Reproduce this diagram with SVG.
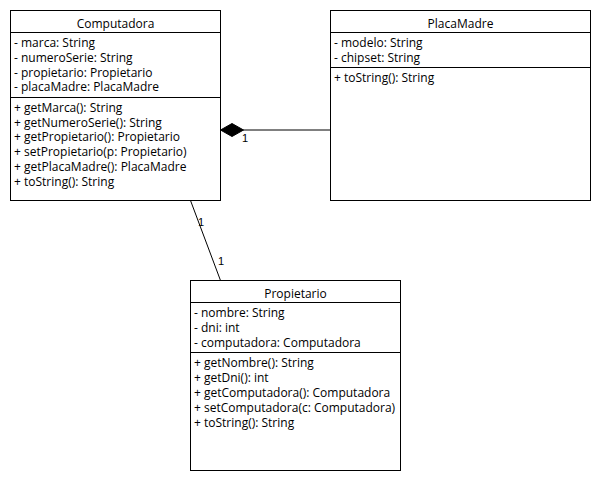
<svg xmlns="http://www.w3.org/2000/svg" width="600" height="480" viewBox="0 0 600 480">
<style>
.box{fill:#fff;stroke:#000;stroke-width:1}
.sep{stroke:#000;stroke-width:1}
text{font-family:"Open Sans","Noto Sans",sans-serif;font-size:12px;fill:#000}
.t{text-anchor:middle}
.m{font-family:"Liberation Sans",Arial,sans-serif;font-size:11px}
.ln{stroke:#000;stroke-width:1;fill:none}
</style>
<rect width="600" height="480" fill="#fff"/>
<g id="connectors">
<line class="ln" x1="243" y1="130" x2="330.5" y2="130"/>
<polygon points="220.5,130 232,123.5 243.5,130 232,136.5" fill="#000" stroke="#000"/>
<text class="m" x="242" y="142">1</text>
<line class="ln" x1="190.5" y1="200.5" x2="220.5" y2="280.5"/>
<text class="m" x="198" y="226">1</text>
<text class="m" x="218" y="265">1</text>
</g>
<g id="Computadora">
<rect class="box" x="10.5" y="10.5" width="210" height="190"/>
<line class="sep" x1="10.5" y1="32.5" x2="220.5" y2="32.5"/>
<line class="sep" x1="10.5" y1="97.5" x2="220.5" y2="97.5"/>
<text class="t" x="115.5" y="28">Computadora</text>
<text x="14" y="47">- marca: String</text>
<text x="14" y="62">- numeroSerie: String</text>
<text x="14" y="77">- propietario: Propietario</text>
<text x="14" y="91">- placaMadre: PlacaMadre</text>
<text x="14" y="112">+ getMarca(): String</text>
<text x="14" y="127">+ getNumeroSerie(): String</text>
<text x="14" y="141">+ getPropietario(): Propietario</text>
<text x="14" y="156">+ setPropietario(p: Propietario)</text>
<text x="14" y="171">+ getPlacaMadre(): PlacaMadre</text>
<text x="14" y="186">+ toString(): String</text>
</g>
<g id="PlacaMadre">
<rect class="box" x="330.5" y="10.5" width="260" height="190"/>
<line class="sep" x1="330.5" y1="32.5" x2="590.5" y2="32.5"/>
<line class="sep" x1="330.5" y1="67.5" x2="590.5" y2="67.5"/>
<text class="t" x="460.5" y="28">PlacaMadre</text>
<text x="334" y="47">- modelo: String</text>
<text x="334" y="62">- chipset: String</text>
<text x="334" y="82">+ toString(): String</text>
</g>
<g id="Propietario">
<rect class="box" x="190.5" y="280.5" width="210" height="190"/>
<line class="sep" x1="190.5" y1="302.5" x2="400.5" y2="302.5"/>
<line class="sep" x1="190.5" y1="352.5" x2="400.5" y2="352.5"/>
<text class="t" x="295.5" y="298">Propietario</text>
<text x="194" y="317">- nombre: String</text>
<text x="194" y="332">- dni: int</text>
<text x="194" y="347">- computadora: Computadora</text>
<text x="194" y="367">+ getNombre(): String</text>
<text x="194" y="382">+ getDni(): int</text>
<text x="194" y="397">+ getComputadora(): Computadora</text>
<text x="194" y="412">+ setComputadora(c: Computadora)</text>
<text x="194" y="427">+ toString(): String</text>
</g>
</svg>
